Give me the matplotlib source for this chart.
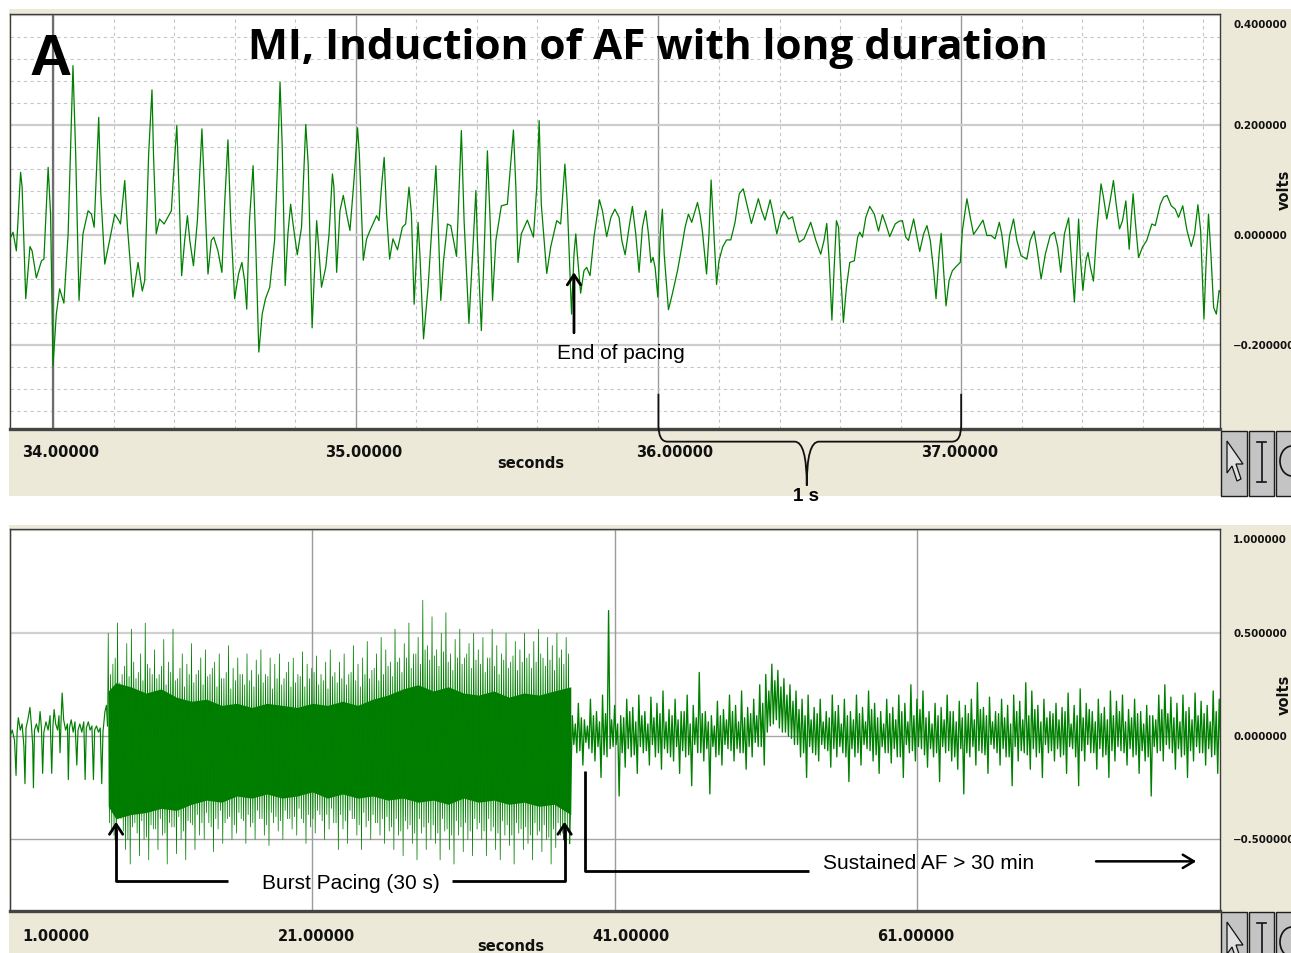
import numpy as np
import matplotlib
matplotlib.use("Agg")
import matplotlib.pyplot as plt
from matplotlib.patches import Rectangle, Polygon, Ellipse, PathPatch
from matplotlib.path import Path
from matplotlib.transforms import blended_transform_factory as blend, offset_copy
from matplotlib.ticker import MultipleLocator

# ------------------------------------------------------------------ DATA
# Panel 1: zoomed ECG trace (seconds, volts)
top_t = [
    33.858, 33.868, 33.879, 33.893, 33.898, 33.910, 33.924, 33.931, 33.945, 33.962,
    33.970, 33.984, 33.992, 34.000, 34.011, 34.022, 34.036, 34.050, 34.066, 34.075,
    34.086, 34.099, 34.116, 34.127, 34.136, 34.151, 34.158, 34.171, 34.187, 34.204,
    34.218, 34.223, 34.237, 34.246, 34.264, 34.281, 34.295, 34.303, 34.316, 34.327,
    34.332, 34.341, 34.352, 34.367, 34.391, 34.397, 34.409, 34.416, 34.425, 34.435,
    34.444, 34.452, 34.464, 34.477, 34.492, 34.501, 34.512, 34.523, 34.531, 34.545,
    34.558, 34.567, 34.578, 34.587, 34.600, 34.613, 34.624, 34.633, 34.640, 34.649,
    34.661, 34.669, 34.680, 34.691, 34.702, 34.716, 34.732, 34.741, 34.750, 34.757,
    34.767, 34.776, 34.785, 34.793, 34.807, 34.821, 34.835, 34.843, 34.856,
    34.871, 34.876, 34.887, 34.901, 34.912, 34.923, 34.928, 34.937, 34.948, 34.959,
    34.970, 34.981, 34.995, 35.006, 35.012, 35.025, 35.036, 35.047, 35.069, 35.077,
    35.085, 35.094, 35.102, 35.112, 35.123, 35.138, 35.154, 35.165, 35.176, 35.184,
    35.193, 35.206, 35.212, 35.224, 35.239, 35.253, 35.265, 35.272, 35.281, 35.290,
    35.303, 35.314, 35.333, 35.341, 35.349, 35.358, 35.374, 35.386, 35.397, 35.402,
    35.415, 35.424, 35.435, 35.444, 35.452, 35.463, 35.481, 35.501, 35.512, 35.521,
    35.529, 35.536, 35.547, 35.567, 35.587, 35.598, 35.606, 35.613, 35.631, 35.644,
    35.664, 35.677, 35.691, 35.699, 35.713, 35.721, 35.727, 35.732, 35.743, 35.754,
    35.763, 35.774, 35.787, 35.805, 35.815, 35.829, 35.843, 35.856, 35.870,
    35.879, 35.890, 35.903, 35.914, 35.925, 35.936, 35.947, 35.958, 35.967, 35.975,
    35.982, 35.989, 35.998, 36.006, 36.013, 36.019, 36.033, 36.046, 36.063, 36.077,
    36.088, 36.099, 36.110, 36.129, 36.137, 36.145, 36.159, 36.167, 36.174, 36.181,
    36.192, 36.200, 36.212, 36.225, 36.239, 36.253, 36.267, 36.280, 36.292, 36.307,
    36.319, 36.330, 36.341, 36.352, 36.369, 36.379, 36.391, 36.404, 36.415, 36.430,
    36.443, 36.454, 36.465, 36.481, 36.503, 36.520, 36.536, 36.547, 36.556, 36.564,
    36.573, 36.580, 36.588, 36.595, 36.601, 36.611, 36.621, 36.632, 36.647, 36.658,
    36.665, 36.674, 36.685, 36.698, 36.713, 36.727, 36.740, 36.751, 36.764, 36.782,
    36.795, 36.806, 36.817, 36.826, 36.843, 36.852, 36.863,
    36.876, 36.887, 36.898, 36.909, 36.917, 36.927, 36.934, 36.942, 36.950, 36.960,
    36.971, 36.986, 36.997, 37.004, 37.019, 37.030, 37.041, 37.057, 37.072, 37.085,
    37.099, 37.112, 37.126, 37.134, 37.148, 37.160, 37.173, 37.184, 37.198, 37.217,
    37.228, 37.241, 37.253, 37.264, 37.278, 37.294, 37.308, 37.319, 37.329, 37.341,
    37.355, 37.363, 37.374, 37.382, 37.388, 37.393, 37.402, 37.412, 37.419, 37.427,
    37.437, 37.448, 37.462, 37.470, 37.481, 37.492, 37.503, 37.512, 37.523, 37.533,
    37.544, 37.555, 37.562, 37.568, 37.575, 37.586, 37.599, 37.613, 37.630, 37.641,
    37.658, 37.669, 37.680, 37.694, 37.707, 37.718, 37.732, 37.746, 37.760, 37.771,
    37.782, 37.791, 37.802, 37.808, 37.817, 37.825, 37.834, 37.843, 37.852, 37.859,
]
top_v = [
    -0.007, 0.005, -0.029, 0.114, 0.087, -0.116, -0.021, -0.029, -0.078, -0.047,
    -0.044, 0.123, 0.038, -0.238, -0.144, -0.098, -0.124, 0.002, 0.308, 0.147,
    -0.119, 0.002, 0.044, 0.038, 0.014, 0.214, 0.075, -0.053, -0.010, 0.038,
    0.026, 0.020, 0.099, 0.014, -0.113, -0.050, -0.102, -0.083, 0.147, 0.264,
    0.147, 0.002, 0.029, 0.020, 0.044, 0.099, 0.199, 0.087, -0.074, -0.010,
    0.035, -0.010, -0.056, 0.026, 0.193, 0.075, -0.071, -0.010, -0.004, -0.029,
    -0.068, 0.056, 0.173, 0.026, -0.116, -0.071, -0.050, -0.083, -0.135, 0.026,
    0.126, -0.004, -0.213, -0.144, -0.116, -0.095, -0.010, 0.117, 0.278, 0.166,
    -0.092, 0.002, 0.056, 0.020, -0.036, 0.014, 0.201, 0.129, -0.169,
    0.026, -0.010, -0.095, -0.059, 0.002, 0.111, 0.087, -0.068, 0.044, 0.072,
    0.038, 0.008, 0.105, 0.195, 0.147, -0.046, -0.007, 0.008, 0.035, 0.026,
    0.087, 0.141, 0.038, -0.044, -0.007, -0.027, 0.014, 0.020, 0.087, 0.038,
    -0.126, 0.023, -0.035, -0.189, -0.095, 0.026, 0.126, 0.026, -0.119, -0.047,
    0.020, 0.017, -0.039, 0.075, 0.190, 0.026, -0.161, -0.035, 0.081, -0.010,
    -0.174, -0.035, 0.153, 0.026, -0.119, -0.010, 0.053, 0.056, 0.129, 0.191,
    0.087, -0.050, 0.002, 0.027, -0.004, 0.087, 0.208, 0.056, -0.070, -0.022,
    0.026, 0.020, 0.129, 0.056, -0.144, -0.035, 0.002, -0.035, -0.106, -0.065,
    -0.059, -0.074, -0.004, 0.064, 0.044, -0.003, 0.032, 0.047, 0.032,
    -0.010, -0.036, 0.014, 0.052, 0.002, -0.068, 0.014, 0.044, 0.002, -0.050,
    -0.041, -0.059, -0.113, 0.002, 0.047, -0.035, -0.136, -0.107, -0.065, -0.022,
    0.014, 0.038, 0.023, 0.059, 0.038, 0.008, -0.071, 0.002, 0.100, 0.026,
    -0.090, -0.047, -0.022, -0.009, -0.009, 0.023, 0.075, 0.084, 0.056, 0.021,
    0.044, 0.066, 0.044, 0.027, 0.064, 0.038, 0.002, 0.032, 0.043, 0.029,
    0.033, 0.008, -0.013, -0.007, 0.023, -0.010, -0.035, -0.010, 0.021, -0.047,
    -0.155, -0.065, 0.026, 0.014, -0.059, -0.159, -0.095, -0.050, -0.047, -0.004,
    0.005, -0.004, 0.032, 0.052, 0.038, 0.007, 0.037, 0.020, -0.003, 0.020,
    0.025, 0.026, -0.004, -0.010, 0.029, 0.002, -0.030,
    0.002, 0.017, -0.010, -0.065, -0.116, -0.035, 0.003, -0.065, -0.129, -0.083,
    -0.065, -0.056, -0.050, 0.008, 0.066, 0.032, 0.001, 0.014, 0.027, -0.001,
    -0.001, -0.007, 0.023, 0.002, -0.060, -0.001, 0.029, -0.010, -0.038, -0.044,
    -0.010, 0.007, -0.035, -0.080, -0.035, -0.001, 0.005, -0.022, -0.068, 0.002,
    0.031, -0.035, -0.122, -0.035, 0.029, -0.035, -0.101, -0.047, -0.032, -0.059,
    -0.084, 0.008, 0.093, 0.069, 0.029, 0.062, 0.099, 0.056, 0.011, 0.026,
    0.062, -0.026, 0.032, 0.075, 0.026, -0.041, -0.022, -0.010, 0.020, 0.017,
    0.056, 0.069, 0.072, 0.053, 0.047, 0.032, 0.053, 0.008, -0.021, 0.002,
    0.055, 0.008, -0.153, -0.065, 0.038, -0.035, -0.132, -0.144, -0.101, -0.107,
]
top_xticks = [34.0, 35.0, 36.0, 37.0]
top_xticklabels = ["34.00000", "35.00000", "36.00000", "37.00000"]
top_yticks = [0.4, 0.2, 0.0, -0.2]
top_yticklabels = ["0.400000", "0.200000", "0.000000", "\u22120.200000"]
end_of_pacing_t = 35.721

# Panel 2: full recording (seconds, volts)
pre_t = [1.00, 1.15, 1.30, 1.40, 1.47, 1.55, 1.68, 1.80, 1.92, 1.99,
         2.06, 2.18, 2.32, 2.42, 2.50, 2.55, 2.62, 2.75, 2.88, 2.99,
         3.08, 3.16, 3.24, 3.38, 3.52, 3.65, 3.76, 3.84, 3.92, 4.02,
         4.15, 4.24, 4.31, 4.38, 4.45, 4.55, 4.68, 4.80, 4.86, 4.93,
         5.05, 5.18, 5.30, 5.42, 5.50, 5.62, 5.75, 5.88, 5.97, 6.05,
         6.18, 6.30, 6.42, 6.52, 6.60, 6.72, 6.85, 6.97, 7.07, 7.15,
         7.28, 7.38, 7.45]
pre_v = [0.00, 0.03, -0.02, -0.19, 0.02, 0.09, 0.03, 0.06, -0.05, -0.23,
         0.04, 0.08, 0.14, 0.05, -0.04, -0.25, 0.03, 0.06, 0.02, 0.12,
         0.04, -0.18, 0.02, 0.07, 0.03, 0.10, -0.18, 0.05, 0.13, 0.06,
         0.03, 0.10, -0.08, 0.08, 0.21, 0.08, 0.03, 0.06, -0.21, 0.04,
         0.08, 0.02, 0.07, -0.14, 0.03, 0.06, 0.02, 0.07, -0.21, 0.04,
         0.07, 0.03, 0.05, -0.21, 0.03, 0.05, 0.02, 0.04, -0.23, 0.02,
         0.12, 0.15, 0.05]

burst_start, burst_end = 7.5, 38.1
burst_up = [0.50, 0.35, 0.55, 0.30, 0.45, 0.52, 0.28, 0.40, 0.55, 0.33,
            0.42, 0.30, 0.47, 0.36, 0.52, 0.28, 0.40, 0.35, 0.45, 0.30,
            0.38, 0.42, 0.30, 0.36, 0.40, 0.28, 0.44, 0.33, 0.38, 0.30,
            0.40, 0.32, 0.37, 0.42, 0.30, 0.38, 0.35, 0.40, 0.28, 0.36,
            0.38, 0.30, 0.41, 0.35, 0.33, 0.39, 0.30, 0.36, 0.42, 0.31,
            0.36, 0.40, 0.30, 0.44, 0.35, 0.38, 0.46, 0.32, 0.40, 0.48,
            0.42, 0.36, 0.52, 0.38, 0.45, 0.55, 0.40, 0.48, 0.66, 0.44,
            0.58, 0.42, 0.50, 0.60, 0.40, 0.47, 0.52, 0.38, 0.45, 0.50,
            0.42, 0.48, 0.38, 0.52, 0.44, 0.40, 0.50, 0.36, 0.46, 0.42,
            0.50, 0.40, 0.46, 0.52, 0.38, 0.48, 0.44, 0.50, 0.42, 0.48]
burst_down = [-0.45, -0.60, -0.40, -0.55, -0.62, -0.42, -0.58, -0.50, -0.60, -0.45,
              -0.55, -0.48, -0.62, -0.44, -0.57, -0.50, -0.60, -0.42, -0.55, -0.48,
              -0.50, -0.42, -0.56, -0.45, -0.52, -0.40, -0.50, -0.47, -0.40, -0.52,
              -0.44, -0.50, -0.40, -0.48, -0.53, -0.42, -0.46, -0.50, -0.40, -0.45,
              -0.48, -0.40, -0.52, -0.44, -0.47, -0.38, -0.50, -0.45, -0.42, -0.55,
              -0.45, -0.52, -0.40, -0.48, -0.55, -0.44, -0.50, -0.42, -0.48, -0.52,
              -0.46, -0.55, -0.48, -0.58, -0.45, -0.52, -0.60, -0.47, -0.55, -0.50,
              -0.52, -0.60, -0.46, -0.55, -0.62, -0.48, -0.56, -0.50, -0.58, -0.45,
              -0.50, -0.58, -0.46, -0.55, -0.60, -0.48, -0.53, -0.62, -0.47, -0.55,
              -0.52, -0.60, -0.48, -0.56, -0.50, -0.62, -0.54, -0.48, -0.58, -0.52]
burst_up2 = [0.30, 0.38, 0.26, 0.34, 0.29, 0.36, 0.31, 0.27, 0.35, 0.30,
             0.28, 0.34, 0.25, 0.31, 0.27, 0.33, 0.24, 0.30, 0.26, 0.32,
             0.25, 0.29, 0.33, 0.24, 0.28, 0.31, 0.23, 0.27, 0.30, 0.25,
             0.27, 0.24, 0.30, 0.26, 0.29, 0.23, 0.28, 0.25, 0.31, 0.24,
             0.26, 0.29, 0.24, 0.28, 0.31, 0.25, 0.27, 0.23, 0.29, 0.26,
             0.28, 0.25, 0.31, 0.27, 0.24, 0.30, 0.28, 0.33, 0.27, 0.30,
             0.34, 0.29, 0.36, 0.31, 0.38, 0.33, 0.40, 0.35, 0.42, 0.37,
             0.39, 0.34, 0.41, 0.36, 0.32, 0.38, 0.35, 0.40, 0.33, 0.37,
             0.35, 0.31, 0.38, 0.34, 0.30, 0.37, 0.33, 0.39, 0.32, 0.36,
             0.38, 0.33, 0.36, 0.40, 0.34, 0.37, 0.32, 0.38, 0.35, 0.40]
burst_down2 = [-0.42, -0.48, -0.40, -0.46, -0.50, -0.44, -0.47, -0.41, -0.49, -0.43,
               -0.45, -0.40, -0.47, -0.42, -0.44, -0.39, -0.46, -0.41, -0.43, -0.38,
               -0.42, -0.37, -0.44, -0.40, -0.36, -0.42, -0.39, -0.43, -0.37, -0.41,
               -0.38, -0.42, -0.36, -0.40, -0.43, -0.37, -0.39, -0.41, -0.36, -0.40,
               -0.39, -0.35, -0.42, -0.38, -0.40, -0.36, -0.41, -0.38, -0.35, -0.42,
               -0.38, -0.41, -0.36, -0.40, -0.43, -0.37, -0.41, -0.38, -0.42, -0.40,
               -0.39, -0.44, -0.40, -0.46, -0.41, -0.43, -0.47, -0.40, -0.44, -0.42,
               -0.43, -0.47, -0.40, -0.45, -0.48, -0.41, -0.44, -0.42, -0.46, -0.40,
               -0.42, -0.46, -0.40, -0.44, -0.47, -0.41, -0.43, -0.48, -0.42, -0.45,
               -0.44, -0.48, -0.42, -0.46, -0.43, -0.49, -0.45, -0.42, -0.47, -0.44]
burst_core_t = [7.5, 8.0, 9, 10, 11, 12, 13, 14, 15, 16, 17, 18, 19, 20, 21, 22,
                23, 24, 25, 26, 27, 28, 29, 30, 31, 32, 33, 34, 35, 36, 37, 38.1]
burst_core_hi = [0.22, 0.26, 0.24, 0.21, 0.23, 0.19, 0.17, 0.18, 0.15, 0.16, 0.14, 0.16,
                 0.15, 0.14, 0.16, 0.15, 0.17, 0.15, 0.18, 0.20, 0.23, 0.25, 0.22, 0.24,
                 0.21, 0.20, 0.22, 0.19, 0.21, 0.20, 0.22, 0.24]
burst_core_lo = [-0.34, -0.40, -0.38, -0.37, -0.35, -0.36, -0.33, -0.31, -0.32, -0.29,
                 -0.30, -0.28, -0.30, -0.29, -0.27, -0.30, -0.28, -0.30, -0.29, -0.31,
                 -0.30, -0.32, -0.31, -0.33, -0.30, -0.32, -0.31, -0.33, -0.32, -0.34,
                 -0.33, -0.38]

af_start, af_step = 38.2, 0.4
af_up = [0.10, 0.16, 0.08, 0.18, 0.12, 0.20, 0.61, 0.15, 0.10, 0.18,
         0.14, 0.20, 0.12, 0.19, 0.16, 0.22, 0.13, 0.18, 0.12, 0.20,
         0.15, 0.31, 0.12, 0.10, 0.17, 0.13, 0.20, 0.15, 0.22, 0.14,
         0.18, 0.25, 0.30, 0.35, 0.32, 0.28, 0.25, 0.22, 0.18, 0.20,
         0.14, 0.18, 0.12, 0.20, 0.15, 0.18, 0.12, 0.20, 0.14, 0.22,
         0.16, 0.12, 0.18, 0.14, 0.20, 0.16, 0.25, 0.18, 0.22, 0.12,
         0.16, 0.14, 0.20, 0.12, 0.17, 0.15, 0.18, 0.26, 0.14, 0.19,
         0.12, 0.18, 0.15, 0.20, 0.17, 0.26, 0.22, 0.15, 0.18, 0.12,
         0.16, 0.14, 0.21, 0.15, 0.23, 0.16, 0.12, 0.18, 0.14, 0.22,
         0.17, 0.20, 0.13, 0.18, 0.12, 0.15, 0.10, 0.20, 0.25, 0.19,
         0.16, 0.20, 0.14, 0.21, 0.17, 0.15, 0.22, 0.18]
af_down = [-0.08, -0.14, -0.06, -0.12, -0.20, -0.10, -0.05, -0.29, -0.15, -0.10,
           -0.18, -0.08, -0.14, -0.10, -0.16, -0.08, -0.12, -0.18, -0.10, -0.24,
           -0.08, -0.12, -0.28, -0.10, -0.14, -0.06, -0.12, -0.08, -0.16, -0.10,
           -0.05, -0.14, 0.05, 0.08, 0.02, 0.00, -0.04, -0.10, -0.20, -0.08,
           -0.12, -0.06, -0.15, -0.10, -0.08, -0.22, -0.10, -0.14, -0.06, -0.12,
           -0.18, -0.08, -0.13, -0.10, -0.20, -0.08, -0.12, -0.06, -0.15, -0.10,
           -0.22, -0.08, -0.12, -0.16, -0.28, -0.10, -0.14, -0.08, -0.18, -0.06,
           -0.14, -0.10, -0.24, -0.12, -0.08, -0.16, -0.10, -0.20, -0.08, -0.12,
           -0.10, -0.18, -0.06, -0.24, -0.12, -0.08, -0.16, -0.10, -0.20, -0.12,
           -0.07, -0.14, -0.10, -0.18, -0.12, -0.29, -0.08, -0.12, -0.06, -0.16,
           -0.10, -0.20, -0.12, -0.08, -0.14, -0.10, -0.18, -0.12]
af_up2 = [0.06, 0.09, 0.05, 0.10, 0.07, 0.11, 0.08, 0.06, 0.09, 0.12,
          0.07, 0.10, 0.06, 0.09, 0.11, 0.07, 0.10, 0.08, 0.12, 0.06,
          0.09, 0.11, 0.07, 0.05, 0.10, 0.08, 0.12, 0.07, 0.09, 0.11,
          0.10, 0.16, 0.22, 0.27, 0.24, 0.20, 0.17, 0.13, 0.10, 0.08,
          0.11, 0.07, 0.09, 0.12, 0.06, 0.10, 0.08, 0.11, 0.07, 0.13,
          0.09, 0.06, 0.11, 0.08, 0.12, 0.07, 0.10, 0.13, 0.09, 0.06,
          0.10, 0.08, 0.12, 0.07, 0.09, 0.11, 0.08, 0.13, 0.10, 0.07,
          0.11, 0.09, 0.06, 0.12, 0.08, 0.10, 0.13, 0.07, 0.09, 0.11,
          0.08, 0.12, 0.06, 0.10, 0.09, 0.13, 0.07, 0.11, 0.08, 0.10,
          0.12, 0.07, 0.09, 0.11, 0.06, 0.10, 0.08, 0.13, 0.11, 0.09,
          0.07, 0.12, 0.08, 0.10, 0.11, 0.07, 0.12, 0.09]
af_down2 = [-0.04, -0.07, -0.03, -0.08, -0.05, -0.09, -0.06, -0.04, -0.08, -0.06,
            -0.09, -0.05, -0.07, -0.04, -0.08, -0.06, -0.10, -0.05, -0.07, -0.09,
            -0.04, -0.08, -0.06, -0.05, -0.09, -0.04, -0.07, -0.06, -0.08, -0.05,
            -0.03, -0.05, 0.02, 0.06, 0.04, 0.02, -0.01, -0.04, -0.08, -0.05,
            -0.09, -0.04, -0.07, -0.06, -0.05, -0.10, -0.06, -0.08, -0.04, -0.07,
            -0.09, -0.05, -0.08, -0.06, -0.10, -0.04, -0.07, -0.05, -0.09, -0.06,
            -0.08, -0.05, -0.07, -0.10, -0.06, -0.08, -0.05, -0.07, -0.09, -0.04,
            -0.08, -0.06, -0.10, -0.05, -0.07, -0.09, -0.06, -0.08, -0.04, -0.07,
            -0.06, -0.09, -0.05, -0.10, -0.07, -0.04, -0.08, -0.06, -0.09, -0.07,
            -0.05, -0.08, -0.06, -0.09, -0.07, -0.10, -0.05, -0.07, -0.04, -0.08,
            -0.06, -0.09, -0.07, -0.05, -0.08, -0.06, -0.09, -0.07]

bot_xticks = [1.0, 21.0, 41.0, 61.0]
bot_xticklabels = ["1.00000", "21.00000", "41.00000", "61.00000"]
bot_yticks = [1.0, 0.5, 0.0, -0.5]
bot_yticklabels = ["1.000000", "0.500000", "0.000000", "\u22120.500000"]

# ------------------------------------------------------------------ FIGURE
W, H = 1291, 954
BEIGE = "#ECE9D8"
GREEN = "#008000"
plt.rcParams["font.family"] = ["DejaVu Sans"]

fig = plt.figure(figsize=(W / 100, H / 100), dpi=100, facecolor="white")


def fx(x):
    return x / W


def fy(y):
    return 1 - y / H


def rect_px(x0, y0, x1, y1, **kw):
    r = Rectangle((fx(x0), fy(y1)), fx(x1) - fx(x0), fy(y0) - fy(y1),
                  transform=fig.transFigure, **kw)
    fig.patches.append(r)
    return r


# window chrome
rect_px(9, 10, W + 2, 497, facecolor=BEIGE, edgecolor="none", zorder=-10)
rect_px(9, 526, W + 2, H + 2, facecolor=BEIGE, edgecolor="none", zorder=-10)


def buttons(y0, y1):
    rect_px(1221, y0, 1247, y1, facecolor="#c4c4c4", edgecolor="#1e1e1e", lw=1.0, zorder=-5)
    rect_px(1249, y0, 1274, y1, facecolor="#c4c4c4", edgecolor="#1e1e1e", lw=1.0, zorder=-5)
    rect_px(1276, y0, W + 5, y1, facecolor="#c4c4c4", edgecolor="#1e1e1e", lw=1.0, zorder=-5)
    pts = [(1227, y0 + 10), (1227, y0 + 42), (1232, y0 + 35), (1237, y0 + 50),
           (1241, y0 + 48), (1236, y0 + 33), (1243, y0 + 33)]
    fig.patches.append(Polygon([(fx(a), fy(b)) for a, b in pts], closed=True,
                               transform=fig.transFigure, facecolor="#e0e0e0",
                               edgecolor="#111111", lw=0.9, zorder=-4))
    for seg in [[(1261.5, y0 + 12), (1261.5, y0 + 50)],
                [(1257, y0 + 11), (1266, y0 + 11)],
                [(1257, y0 + 51), (1266, y0 + 51)]]:
        fig.add_artist(plt.Line2D([fx(seg[0][0]), fx(seg[1][0])],
                                  [fy(seg[0][1]), fy(seg[1][1])],
                                  transform=fig.transFigure, color="#111111", lw=1.2))
    fig.patches.append(Ellipse((fx(1292), fy(y0 + 30)), 24 / W, 30 / H,
                               transform=fig.transFigure, facecolor="none",
                               edgecolor="#111111", lw=1.2, zorder=-4))


buttons(432, 497)
buttons(913, 970)

# ------------------------------------------------------------------ PANEL 1
ax1 = fig.add_axes([fx(10), fy(430), fx(1220) - fx(10), fy(15) - fy(430)])
ax1.set_xlim(33.858, 37.855)
ax1.set_ylim(-0.353, 0.402)
ax1.set_xticks(top_xticks)
ax1.set_yticks(top_yticks)
ax1.xaxis.set_minor_locator(MultipleLocator(0.2))
ax1.yaxis.set_minor_locator(MultipleLocator(0.04))
ax1.grid(which="minor", axis="both", color="#c6c6c6", lw=0.8, linestyle=(0, (3, 3)))
ax1.grid(which="major", axis="y", color="#cdcdcd", lw=1.6)
ax1.grid(which="major", axis="x", color="#9a9a9a", lw=1.0)
ax1.axvline(top_xticks[0], color="#6e6e6e", lw=1.6, zorder=1)
ax1.tick_params(which="both", length=0, labelbottom=False, labelleft=False)
ax1.set_axisbelow(True)
for s in ax1.spines.values():
    s.set_color("#3c3c3c")
    s.set_linewidth(1.0)
ax1.spines["bottom"].set_linewidth(2.4)
ax1.spines["bottom"].set_color("#444444")

ax1.plot(top_t, top_v, color=GREEN, lw=0.9, zorder=3)

# end-of-pacing arrow and label
ax1.annotate("", xy=(end_of_pacing_t, -0.068), xytext=(end_of_pacing_t, -0.178),
             arrowprops=dict(arrowstyle="->,head_length=0.45,head_width=0.3",
                             lw=2.0, color="black", shrinkA=0, shrinkB=0,
                             mutation_scale=16), zorder=5)
ax1.text(35.665, -0.2145, "End of pacing", family="Liberation Sans", fontsize=15,
         ha="left", va="center", color="black", zorder=5)

# 1 s brace between 36 and 37 s
bl, br = top_xticks[2], top_xticks[3]
bm = (bl + br) / 2 - 0.01
yt, yh, yp = -0.289, -0.376, -0.456
verts = [(bl, yt), (bl, yh + 0.03), (bl, yh), (bl + 0.03, yh), (bm - 0.04, yh),
         (bm, yh), (bm, yp),
         (bm, yh), (bm + 0.04, yh), (br - 0.03, yh), (br, yh), (br, yh + 0.03), (br, yt)]
codes = [Path.MOVETO, Path.LINETO, Path.CURVE3, Path.CURVE3, Path.LINETO,
         Path.CURVE3, Path.CURVE3,
         Path.CURVE3, Path.CURVE3, Path.LINETO, Path.CURVE3, Path.CURVE3, Path.LINETO]
ax1.add_patch(PathPatch(Path(verts, codes), facecolor="none", edgecolor="#111111",
                        lw=1.3, clip_on=False, zorder=6))
ax1.text(bm - 0.004, -0.474, "1 s", family="Liberation Sans", weight="bold",
         fontsize=13.5, ha="center", va="center", clip_on=False, zorder=7)

# tick labels (panel 1); small per-label nudges as in the original software
top_label_nudge = [8, 8, 16, -2]
base1 = blend(ax1.transData, fig.transFigure)
for v, lab, dx in zip(top_xticks, top_xticklabels, top_label_nudge):
    fig.text(v, fy(453), lab, transform=offset_copy(base1, fig=fig, x=dx, y=0, units="dots"),
             ha="center", va="center", fontsize=10.5, weight="bold", color="#111111")
fig.text(fx(531), fy(464), "seconds", ha="center", va="center", fontsize=10.5,
         weight="bold", color="#111111")
ty1 = blend(fig.transFigure, ax1.transData)
for v, lab in zip(top_yticks, top_yticklabels):
    if v == max(top_yticks):
        fig.text(fx(1233), fy(25), lab, ha="left", va="center", fontsize=7.4,
                 weight="bold", color="#111111")
    else:
        fig.text(fx(1233), v, lab, transform=ty1, ha="left", va="center",
                 fontsize=7.4, weight="bold", color="#111111")
fig.text(fx(1284), fy(190), "volts", rotation=90, ha="center", va="center",
         fontsize=10.5, weight="bold", color="#111111")

# title and panel letter
fig.text(fx(648), fy(59), "MI, Induction of AF with long duration",
         family="Open Sans", weight="bold", fontsize=30.5, ha="center",
         va="baseline", color="black")
fig.text(fx(30), fy(75), "A", family="Liberation Sans", weight="bold",
         fontsize=42, ha="left", va="baseline", color="black")

# ------------------------------------------------------------------ PANEL 2
ax2 = fig.add_axes([fx(10), fy(912), fx(1220) - fx(10), fy(530) - fy(912)])
ax2.set_xlim(1.0, 81.05)
ax2.set_ylim(-0.848, 1.006)
ax2.set_xticks(bot_xticks)
ax2.set_yticks(bot_yticks)
ax2.grid(which="major", axis="x", color="#9c9c9c", lw=1.0)
for v in bot_yticks:
    ax2.axhline(v, color="#d0d0d0" if v > 0 else "#a4a4a4",
                lw=1.6 if v > 0 else 1.0, zorder=0.5)
ax2.tick_params(which="both", length=0, labelbottom=False, labelleft=False)
ax2.set_axisbelow(True)
for s in ax2.spines.values():
    s.set_color("#3c3c3c")
    s.set_linewidth(1.0)
ax2.spines["bottom"].set_linewidth(2.4)
ax2.spines["bottom"].set_color("#444444")

# pre-burst trace
ax2.plot(pre_t, pre_v, color=GREEN, lw=0.85, zorder=3)

# burst: four extrema per pacing interval
n_b = min(len(burst_up), len(burst_down), len(burst_up2), len(burst_down2))
dt_b = (burst_end - burst_start) / n_b
bt, bv = [pre_t[-1]], [pre_v[-1]]
for i in range(n_b):
    t0 = burst_start + i * dt_b
    bt += [t0, t0 + 0.25 * dt_b, t0 + 0.5 * dt_b, t0 + 0.75 * dt_b]
    bv += [burst_up[i], burst_down2[i], burst_up2[i], burst_down[i]]
ax2.fill_between(burst_core_t, burst_core_lo, burst_core_hi, color="#007a00",
                 lw=0, zorder=2)
ax2.plot(bt, bv, color=GREEN, lw=0.55, zorder=3)

# sustained AF: four extrema per interval
n_a = min(len(af_up), len(af_down), len(af_up2), len(af_down2))
at, av = [bt[-1]], [bv[-1]]
for i in range(n_a):
    t0 = af_start + i * af_step
    at += [t0, t0 + 0.25 * af_step, t0 + 0.5 * af_step, t0 + 0.75 * af_step]
    av += [af_up[i], af_down2[i], af_up2[i], af_down[i]]
ax2.plot(at, av, color=GREEN, lw=0.95, zorder=3)

# annotations (panel 2)
ka = dict(color="black", lw=2.0, zorder=6, solid_capstyle="butt")
ax2.plot([15.44, 8.02, 8.02], [-0.70, -0.70, -0.45], **ka)
ax2.plot([30.27, 37.69, 37.69], [-0.70, -0.70, -0.45], **ka)
ax2.plot([39.01, 39.01, 53.85], [-0.17, -0.654, -0.654], **ka)
for xa in (8.02, 37.69):
    ax2.annotate("", xy=(xa, -0.415), xytext=(xa, -0.50),
                 arrowprops=dict(arrowstyle="->,head_length=0.45,head_width=0.3",
                                 lw=2.0, color="black", shrinkA=0, shrinkB=0,
                                 mutation_scale=16), zorder=6)
ax2.text(17.69, -0.712, "Burst Pacing (30 s)", family="Liberation Sans",
         fontsize=15, ha="left", va="center", zorder=6)
ax2.text(54.77, -0.615, "Sustained AF > 30 min", family="Liberation Sans",
         fontsize=15, ha="left", va="center", zorder=6)
ax2.annotate("", xy=(79.48, -0.607), xytext=(72.85, -0.607),
             arrowprops=dict(arrowstyle="->,head_length=0.5,head_width=0.3",
                             lw=1.8, color="black", shrinkA=0, shrinkB=0,
                             mutation_scale=16), zorder=6)

# tick labels (panel 2)
bot_label_nudge = [12, 4, 16, -1]
base2 = blend(ax2.transData, fig.transFigure)
for v, lab, dx in zip(bot_xticks, bot_xticklabels, bot_label_nudge):
    fig.text(v, fy(937), lab, transform=offset_copy(base2, fig=fig, x=dx, y=0, units="dots"),
             ha="left" if v == min(bot_xticks) else "center", va="center",
             fontsize=10.5, weight="bold", color="#111111")
fig.text(fx(511), fy(947), "seconds", ha="center", va="center", fontsize=10.5,
         weight="bold", color="#111111")
ty2 = blend(fig.transFigure, ax2.transData)
for v, lab in zip(bot_yticks, bot_yticklabels):
    if v == max(bot_yticks):
        fig.text(fx(1233), fy(540), lab, ha="left", va="center", fontsize=7.4,
                 weight="bold", color="#111111")
    else:
        fig.text(fx(1233), v, lab, transform=ty2, ha="left", va="center",
                 fontsize=7.4, weight="bold", color="#111111")
fig.text(fx(1284), fy(695), "volts", rotation=90, ha="center", va="center",
         fontsize=10.5, weight="bold", color="#111111")

fig.savefig("out.png", dpi=100, facecolor="white")
